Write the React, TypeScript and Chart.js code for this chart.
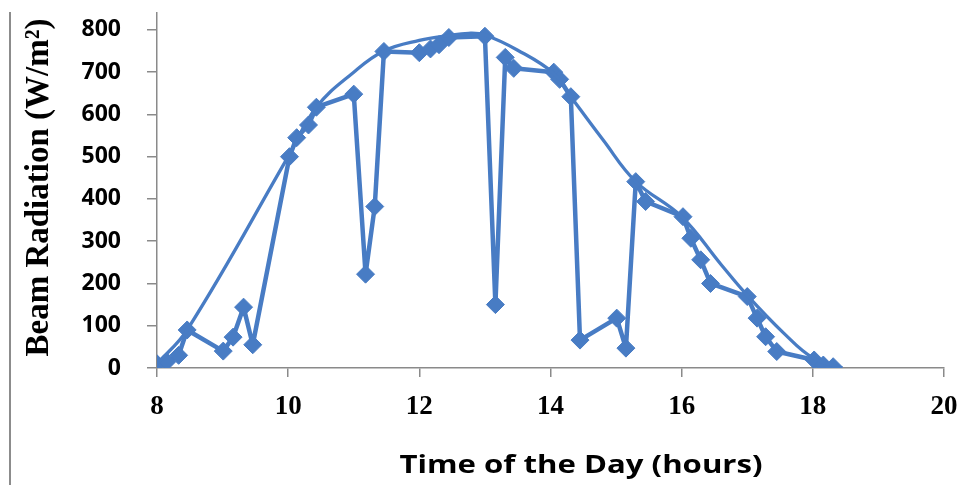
import React, { useEffect, useRef } from "react";
import { Chart, registerables } from "chart.js";

Chart.register(...registerables);

// Measured beam radiation over the day (time in decimal hours, W/m²)
const measuredHours = [
  8.0, 8.15, 8.33, 8.46, 9.01, 9.16, 9.32, 9.46, 10.02, 10.13, 10.31, 10.43,
  11.0, 11.18, 11.32, 11.46, 12.0, 12.17, 12.3, 12.45, 13.0, 13.16, 13.31,
  13.44, 14.05, 14.14, 14.31, 14.45, 15.01, 15.15, 15.3, 15.45, 16.02, 16.14,
  16.29, 16.44, 17.0, 17.15, 17.28, 17.45, 18.02, 18.16, 18.31,
];
const measuredValues = [
  10, 15, 30, 90, 40, 73, 144, 55, 500, 545, 575, 617,
  648, 222, 382, 749, 746, 755, 765, 782, 785, 150, 735,
  709, 700, 683, 642, 66, 118, 47, 441, 394, 358, 307,
  256, 200, 169, 118, 74, 39, 19, 7, 3,
];

// Smooth clear-sky envelope
const envelopeHours = [
  8.0, 8.46, 10.0, 10.43, 11.0, 11.46, 12.0, 12.45, 12.75, 13.0, 13.5, 14.05,
  14.31, 14.8, 15.3, 16.0, 16.6, 17.0, 17.56, 18.0, 18.45,
];
const envelopeValues = [
  10, 90, 500, 617, 700, 750, 775, 787, 792, 788, 752, 697,
  642, 540, 441, 358, 245, 172, 82, 24, 0,
];

const xTicks = [8, 10, 12, 14, 16, 18, 20];
const yTicks = [0, 100, 200, 300, 400, 500, 600, 700, 800];

const yTitle = "Beam Radiation (W/m²)";
const xTitle = "Time of the Day (hours)";

const BLUE = "rgb(72,124,196)";
const AXIS_GREY = "#8a8a8a";

const titlesPlugin = {
  id: "axisTitles",
  afterDraw(chart: any) {
    const { ctx, chartArea } = chart;
    ctx.save();
    ctx.fillStyle = "#000";
    // vertical title, serif bold
    ctx.font = "bold 33px 'Liberation Serif'";
    ctx.textAlign = "center";
    ctx.textBaseline = "middle";
    ctx.translate(39, (chartArea.top + chartArea.bottom) / 2 - 3);
    ctx.rotate(-Math.PI / 2);
    ctx.fillText(yTitle, 0, 0);
    ctx.restore();

    ctx.save();
    ctx.fillStyle = "#000";
    ctx.font = "bold 25px 'Open Sans'";
    ctx.textAlign = "center";
    ctx.textBaseline = "alphabetic";
    const w = ctx.measureText(xTitle).width;
    const targetW = 363;
    ctx.translate(581, 473);
    ctx.scale(targetW / w, 1);
    ctx.fillText(xTitle, 0, 0);
    ctx.restore();
  },
};

export default function App() {
  const ref = useRef<HTMLCanvasElement | null>(null);

  useEffect(() => {
    if (!ref.current) return;
    const measured = measuredHours.map((h, i) => ({ x: h, y: measuredValues[i] }));
    const envelope = envelopeHours.map((h, i) => ({ x: h, y: envelopeValues[i] }));

    const chart = new Chart(ref.current, {
      type: "line",
      data: {
        datasets: [
          {
            label: "Envelope",
            data: envelope,
            borderColor: BLUE,
            borderWidth: 3.3,
            pointRadius: 0,
            tension: 0.4,
            fill: false,
          },
          {
            label: "Measured",
            data: measured,
            borderColor: BLUE,
            backgroundColor: BLUE,
            borderWidth: 4.5,
            borderJoinStyle: "round",
            pointStyle: "rectRot",
            pointRadius: 9,
            pointBorderWidth: 1,
            tension: 0,
            fill: false,
          },
        ],
      },
      options: {
        responsive: false,
        animation: false,
        events: [],
        layout: { padding: { top: 13, right: 29, left: 0, bottom: 0 } },
        plugins: {
          legend: { display: false },
          tooltip: { enabled: false },
          title: { display: false },
        },
        scales: {
          x: {
            type: "linear",
            min: 8,
            max: 20,
            afterBuildTicks: (s: any) => {
              s.ticks = xTicks.map((v) => ({ value: v }));
            },
            ticks: {
              color: "#000",
              font: { family: "'Liberation Serif'", weight: "bold", size: 27 },
              padding: 14,
              maxRotation: 0,
            },
            grid: {
              display: true,
              drawOnChartArea: false,
              drawTicks: true,
              tickLength: 9,
              color: AXIS_GREY,
              lineWidth: 1.5,
            },
            border: { display: true, color: AXIS_GREY, width: 1.5 },
            afterFit: (s: any) => {
              s.height = 117;
              s.paddingLeft = 0;
              s.paddingRight = 0;
            },
          },
          y: {
            type: "linear",
            min: 0,
            max: 840,
            afterBuildTicks: (s: any) => {
              s.ticks = yTicks.map((v) => ({ value: v }));
            },
            ticks: {
              color: "#000",
              font: { family: "'Open Sans'", weight: "bold", size: 23 },
              padding: 26,
            },
            grid: {
              display: true,
              drawOnChartArea: false,
              drawTicks: true,
              tickLength: 10,
              color: AXIS_GREY,
              lineWidth: 1.5,
            },
            border: { display: true, color: AXIS_GREY, width: 1.5 },
            afterFit: (s: any) => {
              s.width = 157;
              s.paddingTop = 0;
              s.paddingBottom = 0;
            },
          },
        },
      },
      plugins: [titlesPlugin],
    });
    return () => chart.destroy();
  }, []);

  return (
    <div
      style={{
        position: "fixed",
        left: 0,
        top: 0,
        width: 973,
        height: 485,
        background: "#fff",
        overflow: "hidden",
      }}
    >
      <div
        style={{
          position: "absolute",
          left: 9,
          top: 12,
          width: 2,
          height: 473,
          background: "#8c8c8c",
        }}
      />
      <canvas ref={ref} width={973} height={485} style={{ position: "absolute", left: 0, top: 0 }} />
    </div>
  );
}
